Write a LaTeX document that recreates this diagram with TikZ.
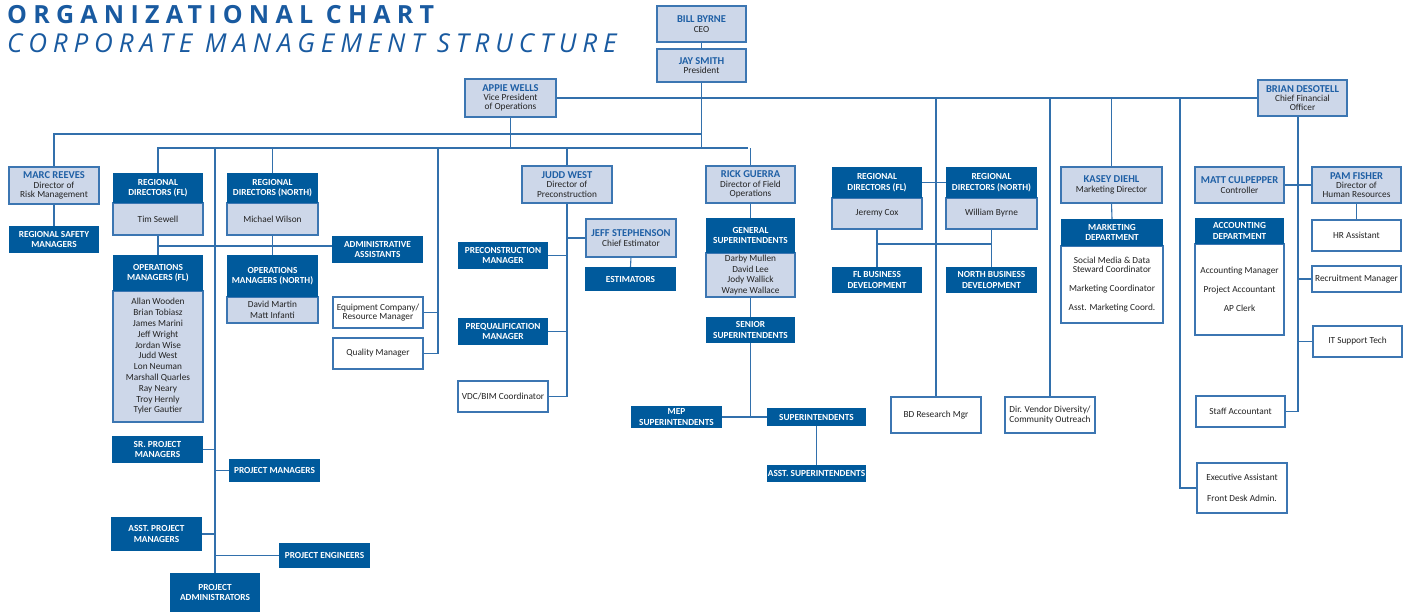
\documentclass[tikz,border=0pt]{standalone}
\usepackage{fontspec}
\setmainfont{Carlito}
\newfontfamily\ttlfont{Open Sans}
\definecolor{dkblue}{RGB}{0,90,156}
\definecolor{ltblue}{RGB}{205,215,233}
\definecolor{bdblue}{RGB}{60,118,178}
\definecolor{lnblue}{RGB}{50,112,172}
\definecolor{nmblue}{RGB}{30,95,165}
\definecolor{ttlblue}{RGB}{25,90,160}
\definecolor{txt}{RGB}{35,35,35}
\pgfdeclarelayer{bg}
\pgfsetlayers{bg,main}
\newcommand\nm[1]{{\fontsize{10.5}{11}\selectfont\bfseries\color{nmblue}#1}}
\newcommand\mybox[7]{\node[#6, minimum width={(#4)-(#2)}, minimum height={(#5)-(#3)}] (#1) at ({((#2)+(#4))/2},{((#3)+(#5))/2}) {#7};}
\tikzset{
  conn/.style={draw=lnblue, line width=1.1pt},
  base/.style={inner sep=0pt, outer sep=0pt, align=center, anchor=center},
  dk/.style={base, fill=dkblue, text=white, font=\fontsize{9.3}{10.5}\selectfont\bfseries},
  lt/.style={base, fill=ltblue, draw=bdblue, line width=1.1pt, text=txt, font=\fontsize{9.3}{9.3}\selectfont},
  wt/.style={base, fill=white, draw=bdblue, line width=1.1pt, text=txt, font=\fontsize{9.3}{9.5}\selectfont},
  lst/.style={font=\fontsize{9.3}{10.8}\selectfont},
}
\begin{document}
\begin{tikzpicture}[x=1pt,y=-1pt]
\useasboundingbox (0,0) rectangle (1404,613);
% titles
\node[anchor=base west, inner sep=0pt, text=ttlblue, font=\ttlfont\bfseries\fontsize{25}{25}\selectfont] (t1) at (7,23) {\addfontfeatures{LetterSpace=25}ORGANIZATIONAL CHART};
\node[anchor=base west, inner sep=0pt, text=ttlblue, font=\ttlfont\itshape\fontsize{26}{26}\selectfont] (t2) at (7,52) {\addfontfeatures{LetterSpace=22.5}CORPORATE MANAGEMENT STRUCTURE};
% top
\mybox{bill}{657}{6}{746}{42}{lt}{\nm{BILL BYRNE}\\CEO}
\mybox{jay}{657}{49}{746}{82}{lt}{\nm{JAY SMITH}\\President}
\mybox{appie}{465}{79}{556}{117}{lt}{\nm{APPIE WELLS}\\Vice President\\of Operations}
\mybox{brian}{1258}{80}{1347}{116}{lt}{\nm{BRIAN DESOTELL}\\Chief Financial\\Officer}
% left
\mybox{marc}{9}{167}{99}{204}{lt}{\nm{MARC REEVES}\\Director of\\Risk Management}
\mybox{rsm}{9}{226}{99}{253}{dk}{REGIONAL SAFETY\\MANAGERS}
\mybox{rdflb}{113}{203}{203}{235}{lt}{Tim Sewell}
\mybox{rdflh}{113}{173}{203}{203}{dk}{REGIONAL\\DIRECTORS (FL)}
\mybox{rdnb}{227}{203}{318}{235}{lt}{Michael Wilson}
\mybox{rdnh}{227}{173}{318}{203}{dk}{REGIONAL\\DIRECTORS (NORTH)}
\mybox{admin}{332}{236}{423}{263}{dk}{ADMINISTRATIVE\\ASSISTANTS}
\mybox{opsflb}{113}{291}{203}{422}{lt,lst}{Allan Wooden\\Brian Tobiasz\\James Marini\\Jeff Wright\\Jordan Wise\\Judd West\\Lon Neuman\\Marshall Quarles\\Ray Neary\\Troy Hernly\\Tyler Gautier}
\mybox{opsflh}{113}{255}{203}{291}{dk}{OPERATIONS\\MANAGERS (FL)}
\mybox{opsnb}{227}{297}{318}{323}{lt,lst}{David Martin\\Matt Infanti}
\mybox{opsnh}{227}{255}{318}{297}{dk}{OPERATIONS\\MANAGERS (NORTH)}
\mybox{equip}{333}{297}{423}{328}{wt}{Equipment Company/\\Resource Manager}
\mybox{quality}{333}{338}{423}{369}{wt}{Quality Manager}
\mybox{srpm}{112}{436}{203}{463}{dk}{SR. PROJECT\\MANAGERS}
\mybox{pm}{229}{459}{320}{482}{dk}{PROJECT MANAGERS}
\mybox{apm}{111}{517}{202}{551}{dk}{ASST. PROJECT\\MANAGERS}
\mybox{pe}{279}{543}{370}{568}{dk}{PROJECT ENGINEERS}
\mybox{padmin}{170}{573}{260}{612}{dk}{PROJECT\\ADMINISTRATORS}
% middle
\mybox{judd}{522}{166}{612}{203}{lt}{\nm{JUDD WEST}\\Director of\\Preconstruction}
\mybox{jeff}{586}{219}{676}{257}{lt}{\nm{JEFF STEPHENSON}\\Chief Estimator}
\mybox{est}{585}{267}{676}{291}{dk}{ESTIMATORS}
\mybox{precon}{458}{242}{548}{269}{dk}{PRECONSTRUCTION\\MANAGER}
\mybox{prequal}{458}{318}{548}{345}{dk}{PREQUALIFICATION\\MANAGER}
\mybox{vdc}{458}{381}{548}{412}{wt}{VDC/BIM Coordinator}
\mybox{rick}{706}{166}{795}{203}{lt}{\nm{RICK GUERRA}\\Director of Field\\Operations}
\mybox{gsb}{706}{253}{795}{297}{lt,font=\fontsize{9.3}{10.4}\selectfont}{Darby Mullen\\David Lee\\Jody Wallick\\Wayne Wallace}
\mybox{gsh}{706}{218}{795}{253}{dk}{GENERAL\\SUPERINTENDENTS}
\mybox{ss}{706}{317}{795}{343}{dk}{SENIOR\\SUPERINTENDENTS}
\mybox{mep}{631}{406}{722}{428}{dk}{MEP\\SUPERINTENDENTS}
\mybox{sup}{767}{408}{866}{426}{dk}{SUPERINTENDENTS}
\mybox{asup}{767}{465}{866}{482}{dk}{ASST. SUPERINTENDENTS}
% middle right
\mybox{rdfl2b}{832}{198}{922}{229}{lt}{Jeremy Cox}
\mybox{rdfl2h}{832}{167}{922}{198}{dk}{REGIONAL\\DIRECTORS (FL)}
\mybox{rdn2b}{946}{198}{1037}{229}{lt}{William Byrne}
\mybox{rdn2h}{946}{167}{1037}{198}{dk}{REGIONAL\\DIRECTORS (NORTH)}
\mybox{flbd}{832}{267}{922}{293}{dk}{FL BUSINESS\\DEVELOPMENT}
\mybox{nbd}{946}{267}{1037}{293}{dk}{NORTH BUSINESS\\DEVELOPMENT}
\mybox{bdr}{891}{397}{981}{433}{wt}{BD Research Mgr}
\mybox{vend}{1005}{397}{1095}{433}{wt}{Dir. Vendor Diversity/\\Community Outreach}
\mybox{kasey}{1061}{167}{1162}{203}{lt}{\nm{KASEY DIEHL}\\Marketing Director}
\mybox{mktb}{1061}{246}{1163}{323}{wt}{Social Media \& Data\\Steward Coordinator\\[9.5pt]Marketing Coordinator\\[9.5pt]Asst. Marketing Coord.}
\mybox{mkth}{1061}{219}{1163}{246}{dk}{MARKETING\\DEPARTMENT}
% right
\mybox{matt}{1195}{167}{1284}{203}{lt}{\nm{MATT CULPEPPER}\\Controller}
\mybox{pam}{1312}{167}{1401}{203}{lt}{\nm{PAM FISHER}\\Director of\\Human Resources}
\mybox{hr}{1312}{220}{1401}{251}{wt}{HR Assistant}
\mybox{acctb}{1195}{244}{1284}{335}{wt}{Accounting Manager\\[9.5pt]Project Accountant\\[9.5pt]AP Clerk}
\mybox{accth}{1195}{218}{1284}{244}{dk}{ACCOUNTING\\DEPARTMENT}
\mybox{recr}{1312}{266}{1401}{292}{wt}{Recruitment Manager}
\mybox{it}{1313}{326}{1402}{357}{wt}{IT Support Tech}
\mybox{staff}{1196}{396}{1285}{427}{wt}{Staff Accountant}
\mybox{exec}{1197}{463}{1287}{513}{wt}{Executive Assistant\\[12pt]Front Desk Admin.}
% connectors
\coordinate (busA) at (701,134);
\coordinate (busB) at (748,148);
\coordinate (trunkT) at (215,148);
\coordinate (eqT) at (438,148);
\coordinate (adm) at (158,246);
\coordinate (bdy) at (877,244);
\coordinate (exT) at (1180,98);
\coordinate (bv) at (1298,116);
\begin{pgfonlayer}{bg}
\draw[conn] (bill.south) -- (jay.north);
\draw[conn] (jay.south) -- (jay.south |- busB);
\draw[conn] (appie.east) -- (brian.west);
\draw[conn] (appie.south) -- (appie.south |- busB);
\draw[conn] (marc.north) |- (busA);
\draw[conn] (rdflh.north) |- (busB);
\draw[conn] (rick.north) -- (rick.north |- busB);
\draw[conn] (trunkT) -- (padmin.north);
\draw[conn] (rdnh.north) -- (rdnh.north |- busB);
\draw[conn] (eqT) |- (quality.east);
\draw[conn] (equip.east) -- (equip.east -| eqT);
\draw[conn] (judd.north) -- (judd.north |- busB);
\draw[conn] (judd.south) |- (vdc.east);
\draw[conn] (jeff.west) -- (jeff.west -| judd.south);
\draw[conn] (precon.east) -- (precon.east -| judd.south);
\draw[conn] (prequal.east) -- (prequal.east -| judd.south);
\draw[conn] (jeff.south) -- (est.north);
\draw[conn] (marc.south) -- (rsm.north);
\draw[conn] (rdflb.south) -- (opsflh.north);
\draw[conn] (rdnb.south) -- (opsnh.north);
\draw[conn] (adm) -- (adm -| admin.west);
\draw[conn] (srpm.east) -- (srpm.east -| trunkT);
\draw[conn] (pm.west) -- (pm.west -| trunkT);
\draw[conn] (apm.east) -- (apm.east -| trunkT);
\draw[conn] (pe.west) -- (pe.west -| trunkT);
\draw[conn] (rick.south) -- (gsh.north);
\draw[conn] (gsb.south) -- (ss.north);
\draw[conn] (ss.south) -- (ss.south |- mep.east);
\draw[conn] (mep.east) -- (sup.west);
\draw[conn] (sup.south) -- (asup.north);
\draw[conn] (rdfl2h.east) -- (rdn2h.west);
\draw[conn] (bdr.north |- appie.east) -- (bdr.north);
\draw[conn] (vend.north |- appie.east) -- (vend.north);
\draw[conn] (kasey.north |- appie.east) -- (kasey.north);
\draw[conn] (kasey.south) -- (mkth.north);
\draw[conn] (rdfl2b.south) -- (flbd.north);
\draw[conn] (rdn2b.south) -- (nbd.north);
\draw[conn] (rdfl2b.south |- bdy) -- (rdn2b.south |- bdy);
\draw[conn] (exT) |- (exec.west);
\draw[conn] (bv) |- (staff.east);
\draw[conn] (matt.east) -- (pam.west);
\draw[conn] (pam.south) -- (hr.north);
\draw[conn] (recr.west) -- (recr.west -| bv);
\draw[conn] (it.west) -- (it.west -| bv);
\end{pgfonlayer}
\end{tikzpicture}
\end{document}
